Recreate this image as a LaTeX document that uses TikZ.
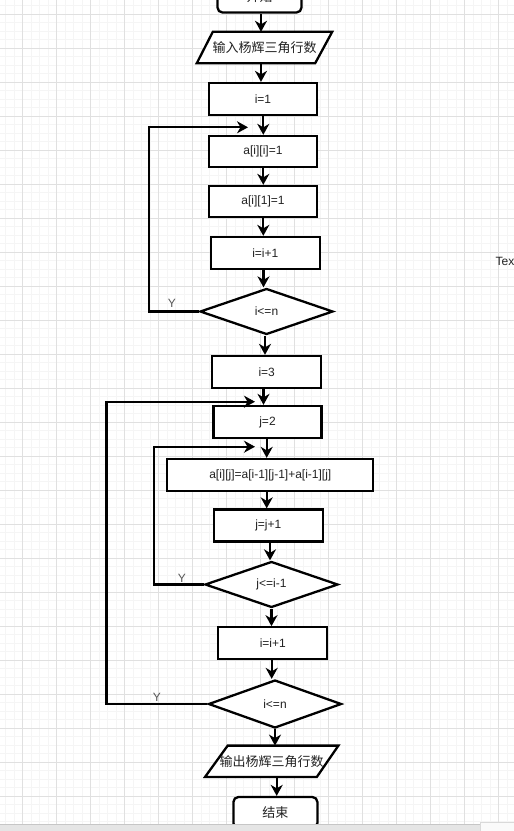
\documentclass[tikz,border=0pt]{standalone}
\usepackage{fontspec}
\setmainfont{Liberation Sans}
\newfontfamily\cjk{Noto Sans CJK SC}
\usetikzlibrary{arrows.meta,shapes.geometric,calc}
\definecolor{gridmajor}{HTML}{E0E0E0}
\definecolor{gridminor}{HTML}{F5F5F5}
\definecolor{txt}{HTML}{222222}
\definecolor{ylab}{HTML}{555555}
\pgfdeclarelayer{gridlayer}
\pgfdeclarelayer{shapelayer}
\pgfsetlayers{gridlayer,shapelayer,main}
\newcommand\myvarrow[3]{\draw[arr] ($(#1.south)+(#3,0)$) -- ($(#1.south |- #2.north)+(#3,0)$);}
\begin{document}
\begin{tikzpicture}[x=1pt,y=-1pt,
  every node/.style={font=\fontsize{12}{14}\selectfont, text=txt},
  ln/.style={line width=2.3pt, draw=black},
  proc/.style={ln, fill=white, rectangle, inner sep=0pt, minimum height=32pt, minimum width=108pt},
  term/.style={ln, fill=white, rectangle, rounded corners=5pt, inner sep=0pt, minimum height=31pt, minimum width=84pt, font=\fontsize{13}{15}\selectfont\cjk},
  dec/.style={ln, fill=white, diamond, inner sep=0pt, minimum width=133pt, minimum height=46pt},
  io/.style={inner sep=0pt, minimum height=31pt, font=\fontsize{13}{15}\selectfont\cjk},
  arr/.style={ln, -{Stealth[length=11pt,width=12pt,inset=3.5pt]}},
  ylabel/.style={text=ylab, inner sep=0pt}]
\useasboundingbox (0,0) rectangle (514,831);
\clip (0,0) rectangle (514,831);
% grid
\begin{pgfonlayer}{gridlayer}
\fill[white] (0,0) rectangle (514,831);
\foreach \k in {0,...,60} \draw[gridminor, line width=0.6pt] ({5.7+8.5*\k},0) -- ({5.7+8.5*\k},831);
\foreach \k in {0,...,97} \draw[gridminor, line width=0.6pt] (0,{5.5+8.5*\k}) -- (514,{5.5+8.5*\k});
\foreach \k in {0,...,14} \draw[gridmajor, line width=1pt] ({22.7+34*\k},0) -- ({22.7+34*\k},831);
\foreach \k in {0,...,24} \draw[gridmajor, line width=1pt] (0,{14+34*\k}) -- (514,{14+34*\k});
\end{pgfonlayer}

% nodes
\node[term] (start) at (259.5,-3) {开始};
\node[io, minimum width=135pt] (in) at (264.5,47.5) {输入杨辉三角行数};
\node[proc] (i1) at (263,99) {i=1};
\node[proc, minimum height=31pt] (aii) at (263,151.5) {a[i][i]=1};
\node[proc, minimum height=31pt] (ai1) at (263,201.5) {a[i][1]=1};
\node[proc, minimum width=109pt] (iinc) at (265.3,253) {i=i+1};
\node[dec] (d1) at (266.5,311.5) {i<=n};
\node[proc, minimum width=109pt] (i3) at (266.7,372) {i=3};
\node[proc] (j2) at (267.5,422) {j=2};
\node[proc, minimum width=206pt] (big) at (270.3,475) {a[i][j]=a[i-1][j-1]+a[i-1][j]};
\node[proc, minimum width=109pt] (jinc) at (268.3,525.5) {j=j+1};
\node[dec] (d2) at (271.5,584.5) {j<=i-1};
\node[proc, minimum width=109pt] (iinc2) at (272.8,643.3) {i=i+1};
\node[dec, minimum height=48pt] (d3) at (275,704) {i<=n};
\node[io, minimum width=133pt] (out) at (271.7,761.3) {输出杨辉三角行数};
\node[term] (end) at (275.4,812.5) {结束};

\begin{pgfonlayer}{shapelayer}
\draw[ln, fill=white] ($(in.north west)+(16,0)$) -- (in.north east) -- ($(in.south east)+(-17,0)$) -- (in.south west) -- cycle;
\draw[ln, fill=white] ($(out.north west)+(22.7,0)$) -- (out.north east) -- ($(out.south east)+(-21.6,0)$) -- (out.south west) -- cycle;
\end{pgfonlayer}

% main arrows
\myvarrow{start}{in}{1.5}
\myvarrow{in}{i1}{-3.5}
\myvarrow{i1}{aii}{0.3}
\myvarrow{aii}{ai1}{0.3}
\myvarrow{ai1}{iinc}{0.3}
\myvarrow{iinc}{d1}{-1.8}
\myvarrow{d1}{i3}{-1.5}
\myvarrow{i3}{j2}{-3.2}
\myvarrow{j2}{big}{-0.8}
\myvarrow{big}{jinc}{-3.6}
\myvarrow{jinc}{d2}{1.7}
\myvarrow{d2}{iinc2}{0}
\myvarrow{iinc2}{d3}{-1.1}
\myvarrow{d3}{out}{0}
\myvarrow{out}{end}{5}

% loop-back arrows
\coordinate (l1) at (248,127.3);
\coordinate (c1) at (149.3,0);
\draw[arr] (d1.west) -- (d1.west -| c1) |- (l1);
\node[ylabel] (y1) at (172,303) {Y};

\coordinate (l3) at (255,446.7);
\coordinate (c3) at (154,0);
\draw[arr] (d2.west) -- (d2.west -| c3) |- (l3);
\node[ylabel] (y2) at (182,578) {Y};

\coordinate (l2) at (255,401.7);
\coordinate (c2) at (106.5,0);
\draw[arr] (d3.west) -- (d3.west -| c2) |- (l2);
\node[ylabel] (y3) at (157,697) {Y};

% stray label at right
\node[anchor=west, inner sep=0pt] (tex) at (495.5,261) {Tex};

% bottom scrollbar
\fill[gray!20] (0,824) rectangle (514,831);
\draw[gray!45, line width=1pt] (0,824.5) -- (480,824.5);
\fill[white!96!gray] (480,822.5) rectangle (514,831);
\draw[gray!30, line width=0.8pt] (480,831) -- (480,822.5) -- (514,822.5);
\end{tikzpicture}
\end{document}
